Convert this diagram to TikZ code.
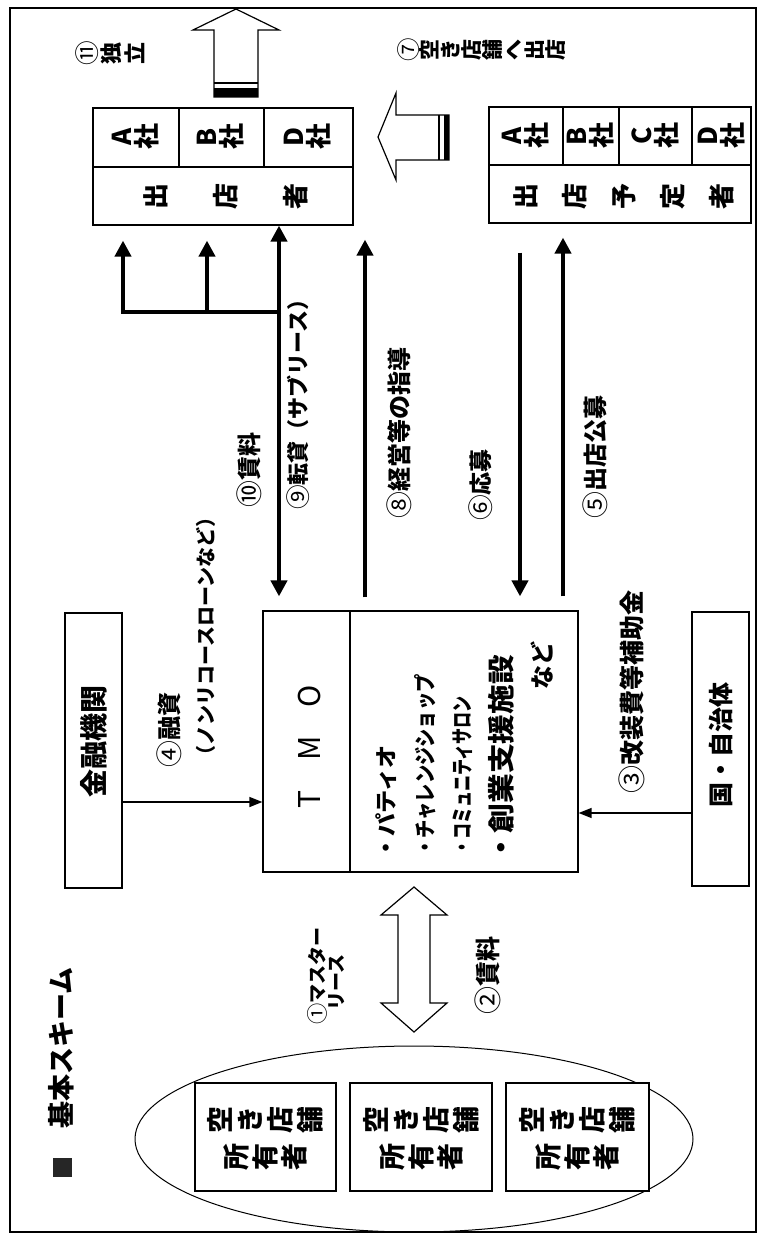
\documentclass[tikz,border=0pt]{standalone}
\usepackage{fontspec}
\usepackage{graphicx}
\usetikzlibrary{arrows.meta,shapes.geometric,calc}
\newfontfamily\jp{Noto Sans CJK JP}
\newcommand\fs[1]{\fontsize{#1pt}{#1pt}\selectfont}
\newcommand\cn[1]{{\mdseries\raisebox{-0.04em}{\scalebox{1.12}{#1}}}}
\newcommand\vg[2][1em]{\makebox[#1]{\rotatebox[origin=c]{90}{\makebox[1em]{\rule[-0.12em]{0pt}{1em}#2}}}}
\makeatletter
\newcommand\vrow[2]{\@tfor\vch:=#2\do{\vg[#1]{\vch}}}
\makeatother
\tikzset{bt/.tip={Triangle[length=16pt,width=16pt]},
         st/.tip={Triangle[length=13pt,width=10pt]}}
\begin{document}
\begin{tikzpicture}[x=1pt,y=-1pt,font=\jp\bfseries,
  bx/.style={draw,line width=1.2pt,inner sep=0pt},
  lb/.style={rotate=90,inner sep=0pt},
  tk/.style={line width=4pt},
  tn/.style={line width=1.3pt},
  hol/.style={draw,fill=white,line width=1.2pt,line join=miter}]
\useasboundingbox (0,0) rectangle (758,1236);
\fill[white] (0,0) rectangle (758,1236);
\draw[line width=1.5pt] (10,8) rectangle (756,1232);

% title
\node[fill=black!85,minimum size=19pt,inner sep=0pt] (sq) at (62,1167) {};
\node[lb] (title) at (61,1048) {\fs{27}基本スキーム};

% top-left box (出店者)
\node[bx,minimum width=260pt,minimum height=117pt] (lbox) at (223,166.5) {};
\draw[line width=1.2pt] (93,167) -- (353,167) (179,108) -- (179,167) (264,108) -- (264,167);
\node (la) at (136,137) {\fs{26}\vg[22pt]{A}\vg[28pt]{社}};
\node (lb) at (221,137) {\fs{26}\vg[22pt]{B}\vg[28pt]{社}};
\node (ld) at (308,137) {\fs{26}\vg[22pt]{D}\vg[28pt]{社}};
\node (lsh) at (226,196) {\fs{26}\vrow{70pt}{出店者}};

% top-right box (出店予定者)
\node[bx,minimum width=262pt,minimum height=116pt] (rbox) at (620,165) {};
\draw[line width=1.2pt] (489,165) -- (751,165) (563,107) -- (563,165) (619,107) -- (619,165) (692,107) -- (692,165);
\node (ra) at (526,136) {\fs{26}\vg[22pt]{A}\vg[28pt]{社}};
\node (rb) at (591,136) {\fs{26}\vg[22pt]{B}\vg[28pt]{社}};
\node (rc) at (655.5,136) {\fs{26}\vg[22pt]{C}\vg[28pt]{社}};
\node (rd) at (721.5,136) {\fs{26}\vg[22pt]{D}\vg[28pt]{社}};
\node (rsh) at (624,196) {\fs{26}\vrow{49pt}{出店予定者}};

% hollow arrows at top
\draw[hol] (236,9) -- (279,30) -- (258,30) -- (258,97) -- (214,97) -- (214,30) -- (193,30) -- cycle;
\draw[line width=1.5pt] (214,83) -- (258,83);
\fill (214,88) rectangle (258,97);
\node (l11) at (111,53) {\fs{22}\vg[24pt]{\cn{⑪}}\vrow{24pt}{独立}};

\draw[hol] (378,137) -- (396,93) -- (396,115) -- (449,115) -- (449,160) -- (396,160) -- (396,180) -- cycle;
\draw[line width=1.5pt] (439,115) -- (439,160);
\fill (444,115) rectangle (449,160);
\node (l7) at (482,50) {\fs{21}\vg[21pt]{\cn{⑦}}\vrow{21pt}{空き店舗へ出店}};

% TMO box
\node[bx,minimum width=315pt,minimum height=261pt] (tmo) at (420.5,741.5) {};
\draw[line width=1.2pt] (350,611) -- (350,872);
\node[lb] (tmot) at (310,748) {\fs{30}\mdseries\makebox[52pt]{T}\makebox[52pt]{M}\makebox[52pt]{O}};
\node[lb,anchor=west] (t1) at (386,859.5) {\fs{22}\scalebox{1.05}[1]{・パティオ}};
\node[lb,anchor=west] (t2) at (425,857) {\fs{22}\scalebox{0.83}[1]{・チャレンジショップ}};
\node[lb,anchor=west] (t3) at (463,856) {\fs{22}\scalebox{0.73}[1]{・コミュニティサロン}};
\node[lb,anchor=west] (t4) at (501,863) {\fs{27}\scalebox{1.1}[1]{・創業支援施設}};
\node[lb] (t5) at (542,665) {\fs{24}など};

% side boxes
\node[bx,minimum width=57pt,minimum height=275pt] (kin) at (93.5,750.5) {};
\node[lb] (kint) at (93.5,741) {\fs{28}金融機関};
\node[bx,minimum width=57pt,minimum height=274pt] (kuni) at (720.5,749) {};
\node[lb] (kunit) at (720.5,744.5) {\fs{25}国・自治体};

\coordinate (k4) at (122,802);
\coordinate (k3) at (692,813);
\draw[tn,-st] (kin.east |- k4) -- (tmo.west |- k4);
\draw[tn,-st] (kuni.west |- k3) -- (tmo.east |- k3);
\node[lb,anchor=west] (l4a) at (169,768) {\fs{24}\cn{④}融資};
\node[lb,anchor=west] (l4b) at (206,766) {\fs{20}（ノンリコースローンなど）};
\node[lb] (l3) at (632,692) {\fs{25}\cn{③}改装費等補助金};

% vertical thick arrows
\coordinate (x9) at (279,312);
\coordinate (x1) at (123,312);
\coordinate (x2) at (207,312);
\coordinate (x8) at (365,0);
\coordinate (x6) at (520,0);
\coordinate (x5) at (563,0);
\draw[tk,bt-bt,shorten <=14pt] (x9 |- tmo.north) -- (x9 |- lbox.south);
\draw[tk,-bt,shorten >=15pt] ([xshift=2pt]x9) -| (x1 |- lbox.south);
\draw[tk,-bt,shorten >=15pt] (x2) -- (x2 |- lbox.south);
\draw[tk,-bt,shorten <=13pt,shorten >=14pt] (x8 |- tmo.north) -- (x8 |- lbox.south);
\draw[tk,-bt,shorten <=29pt,shorten >=14pt] (x6 |- rbox.south) -- (x6 |- tmo.north);
\draw[tk,-bt,shorten <=14pt,shorten >=14pt] (x5 |- tmo.north) -- (x5 |- rbox.south);

\node[lb] (l10) at (249,470) {\fs{24}\cn{⑩}賃料};
\node[lb] (l9) at (298,399) {\fs{22}\cn{⑨}転貸（サブリース）};
\node[lb] (l8) at (399,433) {\fs{24}\cn{⑧}経営等の指導};
\node[lb] (l6) at (481,485) {\fs{23}\cn{⑥}応募};
\node[lb] (l5) at (595,457) {\fs{24}\cn{⑤}出店公募};

% owners
\node[draw,ellipse,line width=1pt,minimum width=558pt,minimum height=186pt,inner sep=0pt] (own) at (414,1139) {};
\node[bx,fill=white,minimum width=141pt,minimum height=108pt] (o1) at (265.5,1137) {};
\node[bx,fill=white,minimum width=142pt,minimum height=108pt] (o2) at (421,1137) {};
\node[bx,fill=white,minimum width=143pt,minimum height=108pt] (o3) at (577.5,1137) {};
\node (o1a) at (265.5,1120) {\fs{27}\vrow{30pt}{空き店舗}};
\node (o1b) at (265.5,1157) {\fs{27}\vrow{29pt}{所有者}};
\node (o2a) at (421,1120) {\fs{27}\vrow{30pt}{空き店舗}};
\node (o2b) at (421,1157) {\fs{27}\vrow{29pt}{所有者}};
\node (o3a) at (577.5,1120) {\fs{27}\vrow{30pt}{空き店舗}};
\node (o3b) at (577.5,1157) {\fs{27}\vrow{29pt}{所有者}};

% master lease double arrow
\draw[hol] (414,887) -- (447,915) -- (430,915) -- (430,1003) -- (447,1003) -- (414,1032) -- (381,1003) -- (398,1003) -- (398,915) -- (381,915) -- cycle;
\node[lb,anchor=west] (l1a) at (317,1025) {\fs{19}\cn{①}マスター};
\node[lb,anchor=west] (l1b) at (337,1011) {\fs{19}リース};
\node[lb] (l2) at (488,975) {\fs{25}\cn{②}賃料};
\end{tikzpicture}
\end{document}
